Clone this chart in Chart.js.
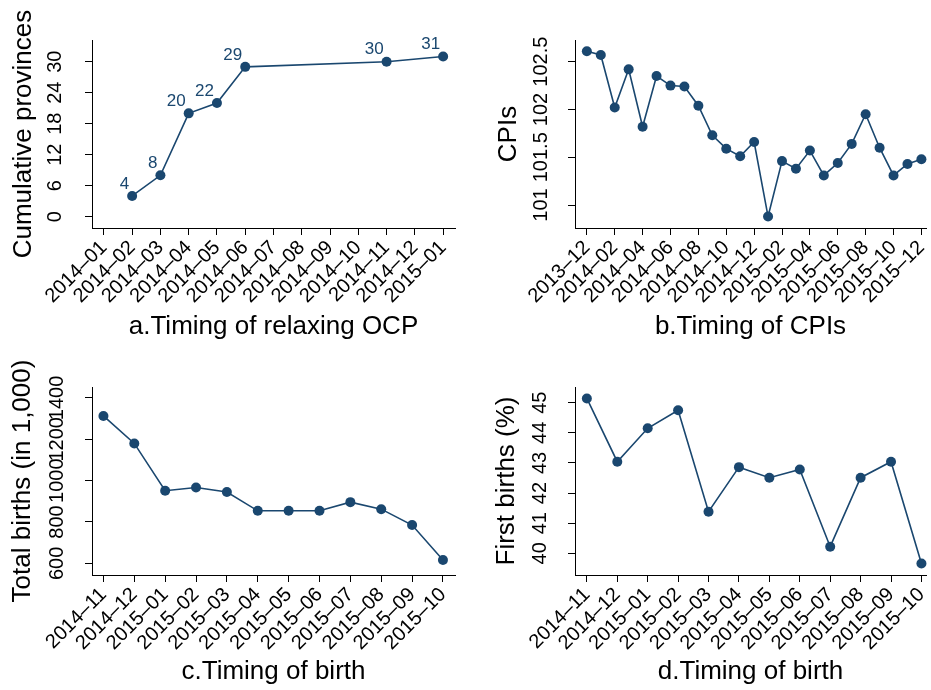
<!DOCTYPE html>
<html>
<head>
<meta charset="utf-8">
<script src="https://cdn.jsdelivr.net/npm/chart.js@4.4.0/dist/chart.umd.min.js"></script>
<style>
  html, body { margin: 0; padding: 0; background: #fff; }
  #wrap { position: relative; width: 931px; height: 690px; overflow: hidden; background: #fff; }
  canvas { position: absolute; }
</style>
</head>
<body>
<div id="wrap">
  <canvas id="chartA" width="465" height="345" style="left:0;top:0"></canvas>
  <canvas id="chartB" width="466" height="345" style="left:465px;top:0"></canvas>
  <canvas id="chartC" width="465" height="345" style="left:0;top:345px"></canvas>
  <canvas id="chartD" width="466" height="345" style="left:465px;top:345px"></canvas>
</div>
<script>
// a. provinces relaxing the one-child policy (cumulative)
const ocpAxisMonths = ['2014–01', '2014–02', '2014–03', '2014–04', '2014–05', '2014–06', '2014–07',
                       '2014–08', '2014–09', '2014–10', '2014–11', '2014–12', '2015–01'];
const ocpMonths = ['2014–02', '2014–03', '2014–04', '2014–05', '2014–06', '2014–11', '2015–01'];
const ocpProvinces = [4, 8, 20, 22, 29, 30, 31];
const ocpYTicks = [0, 6, 12, 18, 24, 30];

// b. CPIs
const cpiMonths = ['2013–12', '2014–01', '2014–02', '2014–03', '2014–04', '2014–05', '2014–06',
                   '2014–07', '2014–08', '2014–09', '2014–10', '2014–11', '2014–12', '2015–01',
                   '2015–02', '2015–03', '2015–04', '2015–05', '2015–06', '2015–07', '2015–08',
                   '2015–09', '2015–10', '2015–11', '2015–12'];
const cpiValues = [102.61, 102.57, 102.02, 102.42, 101.82, 102.35, 102.25, 102.24, 102.04, 101.73,
                   101.59, 101.51, 101.66, 100.88, 101.46, 101.38, 101.57, 101.31, 101.44, 101.64,
                   101.95, 101.60, 101.31, 101.43, 101.48];
const cpiYTicks = [101, 101.5, 102, 102.5];

// c. / d. births
const birthMonths = ['2014–11', '2014–12', '2015–01', '2015–02', '2015–03', '2015–04',
                     '2015–05', '2015–06', '2015–07', '2015–08', '2015–09', '2015–10'];
const totalBirths = [1313, 1180, 951, 967, 945, 854, 854, 854, 896, 862, 785, 616];
const totalYTicks = [600, 800, 1000, 1200, 1400];
const firstBirths = [45.14, 43.04, 44.15, 44.75, 41.38, 42.86, 42.51, 42.78, 40.22, 42.51, 43.04, 39.66];
const firstYTicks = [40, 41, 42, 43, 44, 45];

const NAVY = '#1a476f';
const FONT = '"Liberation Sans", Arial, Helvetica, sans-serif';

// draws the value above-left of every point (panel a only)
const pointLabels = {
    id: 'pointLabels',
    afterDatasetsDraw(chart){
        const ctx = chart.ctx;
        const meta = chart.getDatasetMeta(0);
        ctx.save();
        ctx.font = '17px ' + FONT;
        ctx.fillStyle = NAVY;
        ctx.textAlign = 'right';
        ctx.textBaseline = 'middle';
        meta.data.forEach(function(pt, i){
            ctx.fillText(String(ocpProvinces[i]), pt.x - 3, pt.y - 12);
        });
        ctx.restore();
    }
};

function drawPanel(id, axisMonths, months, values, yTicks, o){
    const pts = months.map((m, i) => ({ x: axisMonths.indexOf(m), y: values[i] }));
    const step = yTicks[1] - yTicks[0];
    return new Chart(document.getElementById(id), {
        type: 'line',
        data: {
            datasets: [{
                data: pts,
                borderColor: NAVY,
                backgroundColor: NAVY,
                borderWidth: 1.6,
                pointRadius: 5,
                pointHoverRadius: 5,
                pointBorderWidth: 0,
                pointBackgroundColor: NAVY,
                tension: 0,
                clip: false
            }]
        },
        options: {
            responsive: false,
            animation: false,
            devicePixelRatio: 1,
            events: [],
            layout: { padding: { top: o.top, right: o.right, left: 0, bottom: 0 } },
            plugins: { legend: { display: false }, tooltip: { enabled: false } },
            scales: {
                x: {
                    type: 'linear',
                    min: o.xMin,
                    max: o.xMax,
                    border: { display: true, color: '#000', width: 1 },
                    grid: { drawOnChartArea: false, drawTicks: true, tickLength: 7, color: '#000', lineWidth: 1 },
                    ticks: {
                        stepSize: o.xStep,
                        includeBounds: false,
                        autoSkip: false,
                        minRotation: 45,
                        maxRotation: 45,
                        padding: 1,
                        color: '#000',
                        font: { family: FONT, size: 20 },
                        callback: v => axisMonths[v]
                    },
                    title: {
                        display: true,
                        text: o.xTitle,
                        color: '#000',
                        font: { family: FONT, size: 26 },
                        padding: { top: 0, bottom: 3 }
                    },
                    afterFit: s => { s.height = o.xHeight; s.paddingLeft = 0; s.paddingRight = 0; }
                },
                y: {
                    type: 'linear',
                    min: o.yMin,
                    max: o.yMax,
                    border: { display: true, color: '#000', width: 1 },
                    grid: { drawOnChartArea: false, drawTicks: true, tickLength: 7, color: '#000', lineWidth: 1 },
                    ticks: {
                        stepSize: step,
                        includeBounds: false,
                        autoSkip: false,
                        minRotation: 90,
                        maxRotation: 90,
                        crossAlign: 'center',
                        padding: o.yPad,
                        color: '#000',
                        font: { family: FONT, size: 20 },
                        callback: v => String(v)
                    },
                    title: {
                        display: true,
                        text: o.yTitle,
                        color: '#000',
                        font: { family: FONT, size: 26 },
                        padding: { top: o.yTitlePad, bottom: 0 }
                    },
                    afterFit: s => { s.width = o.left; s.paddingTop = 0; s.paddingBottom = 0; }
                }
            }
        },
        plugins: o.plugins || []
    });
}

drawPanel('chartA', ocpAxisMonths, ocpMonths, ocpProvinces, ocpYTicks, {
    top: 40, right: 10, left: 92, xHeight: 117,
    xMin: -0.42, xMax: 12.42, xStep: 1,
    yMin: -2.2, yMax: 34.2, yPad: 18, yTitlePad: 8,
    xTitle: 'a.Timing of relaxing OCP', yTitle: 'Cumulative provinces',
    plugins: [pointLabels]
});

drawPanel('chartB', cpiMonths, cpiMonths, cpiValues, cpiYTicks, {
    top: 40, right: 0, left: 110, xHeight: 117,
    xMin: -0.85, xMax: 24.33, xStep: 2,
    yMin: 100.76, yMax: 102.727, yPad: 1, yTitlePad: 28,
    xTitle: 'b.Timing of CPIs', yTitle: 'CPIs'
});

drawPanel('chartC', birthMonths, birthMonths, totalBirths, totalYTicks, {
    top: 42, right: 10, left: 92, xHeight: 115,
    xMin: -0.37, xMax: 11.39, xStep: 1,
    yMin: 543.5, yMax: 1453, yPad: 5, yTitlePad: 7,
    xTitle: 'c.Timing of birth', yTitle: 'Total births (in 1,000)'
});

drawPanel('chartD', birthMonths, birthMonths, firstBirths, firstYTicks, {
    top: 42, right: 0, left: 110, xHeight: 115,
    xMin: -0.39, xMax: 11.15, xStep: 1,
    yMin: 39.28, yMax: 45.52, yPad: 16, yTitlePad: 26,
    xTitle: 'd.Timing of birth', yTitle: 'First births (%)'
});
</script>
</body>
</html>
